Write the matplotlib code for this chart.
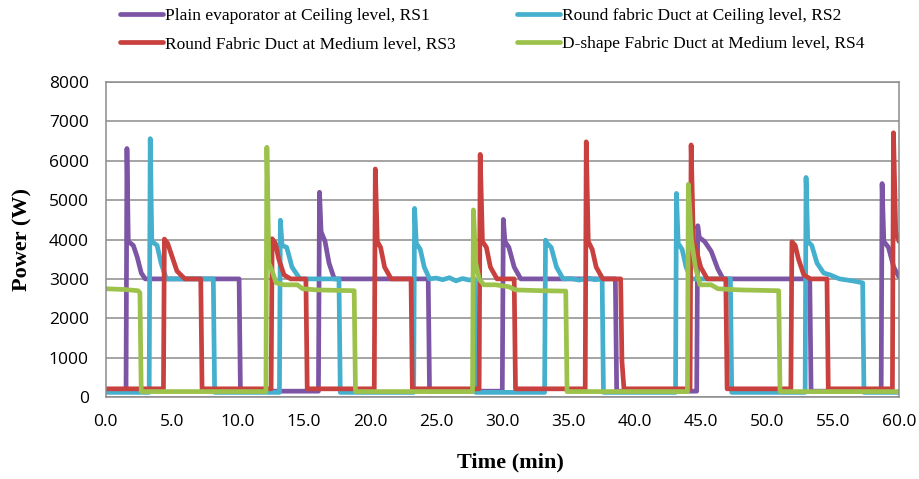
import matplotlib
matplotlib.use("Agg")
import matplotlib.pyplot as plt
import numpy as np

# RS1 - plain evaporator at ceiling level
t_rs1 = [0, 1.55, 1.62, 1.72, 2.1, 2.4, 2.7, 3.0, 10.1, 10.2,
         16.1, 16.18, 16.3, 16.6, 16.9, 17.3, 24.4, 24.5,
         30.0, 30.08, 30.2, 30.5, 30.9, 31.4, 38.55, 38.65,
         44.7, 44.78, 44.9, 45.3, 45.8, 46.3, 46.7, 53.25, 53.35,
         58.65, 58.72, 58.85, 59.2, 59.6, 60]
p_rs1 = [150, 150, 6310, 3950, 3850, 3550, 3150, 3000, 3000, 150,
         150, 5200, 4200, 3950, 3400, 3000, 3000, 150,
         150, 4510, 3950, 3800, 3300, 3000, 3000, 150,
         150, 4350, 4050, 3950, 3700, 3250, 3000, 3000, 150,
         150, 5420, 3950, 3800, 3300, 3050]

# RS2 - round fabric duct at ceiling level
t_rs2 = [0, 3.3, 3.38, 3.5, 3.9, 4.2, 4.6, 8.15, 8.25,
         13.15, 13.22, 13.35, 13.7, 14.1, 14.7, 17.65, 17.75,
         23.3, 23.37, 23.5, 23.8, 24.1, 24.5, 25.0, 25.5, 26.0, 26.5, 27.0, 27.5, 27.9, 28.0,
         33.2, 33.27, 33.4, 33.7, 34.1, 34.6, 35.2, 35.8, 36.5, 37.0, 37.55, 37.65,
         43.1, 43.17, 43.3, 43.6, 43.9, 44.3, 47.25, 47.35,
         52.9, 52.97, 53.1, 53.4, 53.8, 54.3, 54.8, 55.5, 56.5, 57.25, 57.35, 60]
p_rs2 = [120, 120, 6560, 3950, 3850, 3400, 3000, 3000, 120,
         120, 4490, 3850, 3800, 3300, 3000, 3000, 120,
         120, 4790, 3900, 3750, 3300, 3000, 3020, 2980, 3030, 2950, 3010, 2970, 3000, 120,
         120, 3985, 3900, 3800, 3300, 3000, 3010, 2970, 3020, 2980, 3000, 120,
         120, 5170, 3900, 3750, 3300, 3000, 3000, 120,
         120, 5575, 3950, 3850, 3400, 3150, 3100, 3000, 2950, 2900, 120, 120]

# RS3 - round fabric duct at medium level
t_rs3 = [0, 4.38, 4.45, 4.7, 5.0, 5.4, 6.0, 7.2, 7.3,
         12.52, 12.6, 12.85, 13.1, 13.5, 14.0, 15.15, 15.25,
         20.32, 20.4, 20.55, 20.8, 21.1, 21.6, 23.1, 23.2,
         28.25, 28.33, 28.5, 28.8, 29.1, 29.6, 30.9, 31.0,
         36.27, 36.35, 36.5, 36.8, 37.1, 37.6, 38.95, 39.05, 39.2,
         44.2, 44.28, 44.45, 44.7, 45.0, 45.5, 46.9, 47.0,
         51.82, 51.9, 52.15, 52.4, 52.8, 53.3, 54.55, 54.65,
         59.5, 59.58, 59.75, 60]
p_rs3 = [210, 210, 4010, 3900, 3600, 3200, 3000, 3000, 210,
         210, 4020, 3900, 3500, 3100, 3000, 3000, 210,
         210, 5790, 3950, 3800, 3300, 3000, 3000, 210,
         210, 6160, 3950, 3800, 3300, 3000, 3000, 210,
         210, 6480, 3950, 3750, 3300, 3000, 3000, 900, 210,
         210, 6400, 3950, 3700, 3300, 3000, 3000, 210,
         210, 3940, 3850, 3500, 3100, 3000, 3000, 210,
         210, 6710, 4200, 3950]

# RS4 - D-shape fabric duct at medium level
t_rs4 = [0, 1.5, 2.45, 2.6, 2.7, 12.13, 12.2, 12.35, 12.6, 12.9, 13.5, 14.5, 14.9, 16.0, 18.8, 18.9,
         27.75, 27.82, 28.0, 28.25, 28.6, 29.5, 30.5, 31.0, 33.0, 34.8, 34.9,
         44.0, 44.07, 44.3, 44.6, 44.95, 45.8, 46.3, 48.0, 50.9, 51.0, 60]
p_rs4 = [2750, 2730, 2700, 2650, 140, 140, 6340, 3400, 3200, 2900, 2850, 2850, 2750, 2720, 2700, 140,
         140, 4750, 3400, 3000, 2850, 2850, 2800, 2720, 2700, 2690, 140,
         140, 5400, 4000, 3300, 2850, 2850, 2750, 2720, 2700, 140, 140]

labels = ["Plain evaporator at Ceiling level, RS1",
          "Round fabric Duct at Ceiling level, RS2",
          "Round Fabric Duct at Medium level, RS3",
          "D-shape Fabric Duct at Medium level, RS4"]
colors = ["#7D55A5", "#45B0CE", "#C8413F", "#9CC24B"]

fig = plt.figure(figsize=(9.2, 4.79), dpi=100)
ax = fig.add_axes([0.1147, 0.171, 0.8625, 0.658])

handles = []
for t, p, lab, c in zip([t_rs1, t_rs2, t_rs3, t_rs4], [p_rs1, p_rs2, p_rs3, p_rs4], labels, colors):
    h, = ax.plot(t, p, color=c, lw=3.4, label=lab, solid_joinstyle="round", solid_capstyle="round")
    handles.append(h)

ax.set_xlim(0, 60)
ax.set_ylim(0, 8000)
ax.set_xticks(np.arange(0, 61, 5))
ax.set_xticklabels(["%.1f" % v for v in np.arange(0, 61, 5)])
ax.set_yticks(np.arange(0, 8001, 1000))
ax.yaxis.grid(True, color="#8c8c8c", lw=1.1)
ax.set_axisbelow(True)
for s in ax.spines.values():
    s.set_color("#8c8c8c")
    s.set_linewidth(1.1)
ax.tick_params(length=0, labelsize=12.5, pad=12)
for lb in ax.get_xticklabels() + ax.get_yticklabels():
    lb.set_fontfamily("Open Sans")

fig.text(22 / 920, 0.5, "Power (W)", rotation=90, ha="center", va="center",
         family="Liberation Serif", weight="bold", fontsize=16)
fig.text(510 / 920, 1 - 462 / 479, "Time (min)", ha="center", va="center",
         family="Liberation Serif", weight="bold", fontsize=16)

# legend is filled row by row in the reference: RS1 RS2 / RS3 RS4
order = [0, 2, 1, 3]
fig.legend([handles[i] for i in order], [labels[i] for i in order],
           loc="upper left", bbox_to_anchor=(120 / 920, 1 - 8 / 479),
           ncol=2, frameon=False, borderpad=0, borderaxespad=0,
           handlelength=2.5, handletextpad=0.1, columnspacing=3.5, labelspacing=0.7,
           prop={"family": "Liberation Serif", "size": 12.5})

fig.savefig("out.png", dpi=100)
